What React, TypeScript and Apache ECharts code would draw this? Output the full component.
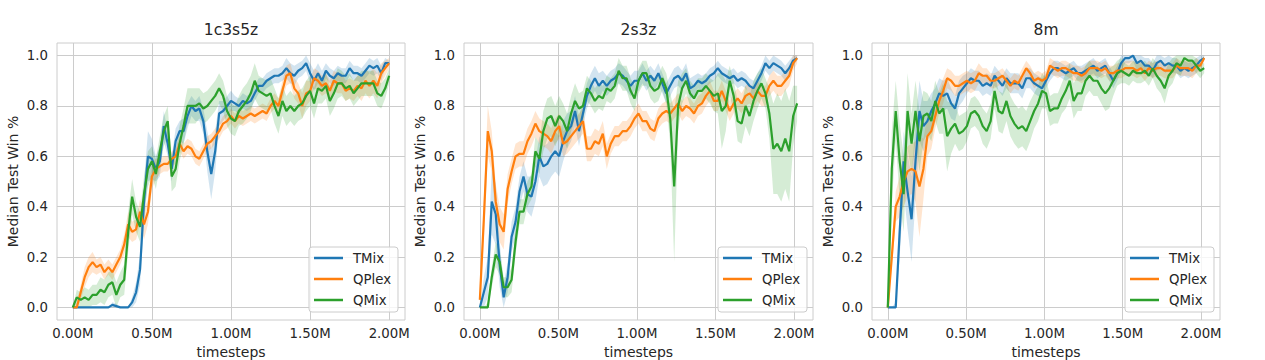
import React, { useEffect, useRef } from "react";
import * as echarts from "echarts";

// ---------- data (win rates, sampled every 1/80 of the run) ----------
const titles = ["1c3s5z", "2s3z", "8m"];
const methods = ["TMix", "QPlex", "QMix"];
const colors = ["#1f77b4", "#ff7f0e", "#2ca02c"];
const xTickValues = [0, 0.5, 1.0, 1.5, 2.0];
const yTickValues = [0, 0.2, 0.4, 0.6, 0.8, 1.0];
const lastStepM = [2.0, 2.02, 2.02];

// 1c3s5z
const p1TMix = [0,0,0,0,0,0,0,0,0,0,
  0.01,0.005,0,0,0,0.02,0.06,0.15,0.42,0.6,
  0.59,0.55,0.58,0.72,0.65,0.55,0.66,0.7,0.7,0.76,
  0.8,0.78,0.79,0.74,0.62,0.53,0.62,0.77,0.78,0.8,
  0.82,0.81,0.8,0.82,0.81,0.82,0.85,0.88,0.88,0.9,
  0.91,0.92,0.92,0.93,0.95,0.93,0.92,0.94,0.95,0.97,
  0.93,0.9,0.93,0.9,0.94,0.92,0.91,0.93,0.92,0.92,
  0.95,0.93,0.93,0.92,0.94,0.96,0.95,0.96,0.93,0.97,
  0.97];
const p1QPlex = [0,0,0.06,0.12,0.16,0.18,0.16,0.17,0.14,0.16,
  0.14,0.17,0.2,0.25,0.33,0.3,0.31,0.38,0.33,0.38,
  0.52,0.55,0.56,0.57,0.57,0.59,0.6,0.65,0.62,0.64,
  0.63,0.6,0.59,0.62,0.65,0.66,0.68,0.7,0.73,0.74,
  0.76,0.74,0.76,0.75,0.76,0.77,0.76,0.77,0.78,0.77,
  0.8,0.82,0.8,0.86,0.92,0.93,0.87,0.85,0.8,0.85,
  0.86,0.91,0.9,0.88,0.89,0.86,0.9,0.89,0.89,0.86,
  0.87,0.86,0.88,0.87,0.9,0.88,0.9,0.88,0.93,0.95,
  0.97];
const p1QMix = [0,0.04,0.03,0.04,0.03,0.05,0.05,0.07,0.06,0.09,
  0.1,0.05,0.09,0.11,0.3,0.44,0.36,0.32,0.45,0.55,
  0.58,0.53,0.62,0.7,0.74,0.52,0.55,0.65,0.72,0.8,
  0.8,0.8,0.81,0.79,0.8,0.82,0.84,0.87,0.84,0.78,
  0.75,0.74,0.78,0.8,0.82,0.85,0.9,0.86,0.85,0.84,
  0.85,0.8,0.76,0.82,0.78,0.8,0.78,0.8,0.81,0.84,
  0.86,0.81,0.87,0.86,0.88,0.82,0.85,0.89,0.89,0.87,
  0.88,0.85,0.87,0.89,0.89,0.89,0.89,0.85,0.84,0.87,
  0.92];
const p1TMixBand = [0,0,0,0,0,0,0,0,0,0,
  0.01,0.01,0,0,0,0.02,0.04,0.06,0.08,0.1,
  0.08,0.05,0.06,0.06,0.05,0.05,0.05,0.04,0.05,0.05,
  0.04,0.04,0.05,0.05,0.08,0.1,0.08,0.05,0.04,0.04,
  0.04,0.03,0.03,0.03,0.03,0.03,0.03,0.03,0.03,0.03,
  0.03,0.03,0.03,0.03,0.04,0.04,0.04,0.03,0.03,0.03,
  0.04,0.04,0.04,0.04,0.03,0.03,0.03,0.03,0.03,0.03,
  0.03,0.03,0.03,0.03,0.03,0.03,0.03,0.03,0.03,0.02,
  0.01];
const p1QPlexBand = [0,0.02,0.03,0.04,0.04,0.04,0.03,0.03,0.03,0.03,
  0.03,0.03,0.03,0.04,0.05,0.04,0.04,0.05,0.06,0.05,
  0.05,0.04,0.03,0.03,0.03,0.03,0.03,0.03,0.03,0.03,
  0.03,0.03,0.03,0.03,0.03,0.03,0.03,0.03,0.03,0.03,
  0.03,0.03,0.03,0.03,0.03,0.03,0.03,0.03,0.03,0.03,
  0.03,0.03,0.03,0.04,0.04,0.04,0.04,0.04,0.05,0.05,
  0.04,0.04,0.04,0.04,0.04,0.04,0.04,0.04,0.04,0.04,
  0.04,0.04,0.04,0.05,0.05,0.05,0.05,0.05,0.04,0.03,
  0.02];
const p1QMixBand = [0,0.03,0.03,0.04,0.04,0.04,0.04,0.05,0.05,0.05,
  0.05,0.05,0.05,0.06,0.08,0.07,0.06,0.06,0.07,0.07,
  0.06,0.06,0.06,0.06,0.06,0.06,0.07,0.07,0.07,0.07,
  0.07,0.07,0.06,0.06,0.06,0.06,0.06,0.06,0.06,0.06,
  0.06,0.06,0.06,0.07,0.07,0.07,0.07,0.06,0.06,0.06,
  0.06,0.07,0.07,0.06,0.06,0.06,0.06,0.06,0.06,0.06,
  0.06,0.06,0.06,0.05,0.05,0.06,0.06,0.06,0.05,0.05,
  0.05,0.05,0.05,0.05,0.05,0.05,0.05,0.05,0.05,0.04,
  0.03];

// 2s3z
const p2TMix = [0,0.06,0.12,0.42,0.37,0.17,0.04,0.12,0.28,0.34,
  0.46,0.52,0.45,0.44,0.5,0.6,0.56,0.57,0.6,0.62,
  0.6,0.66,0.7,0.72,0.78,0.7,0.77,0.84,0.88,0.91,
  0.88,0.9,0.88,0.9,0.91,0.93,0.92,0.9,0.88,0.9,
  0.9,0.93,0.9,0.92,0.9,0.93,0.89,0.85,0.88,0.91,
  0.92,0.9,0.93,0.87,0.88,0.9,0.89,0.9,0.92,0.93,
  0.95,0.93,0.92,0.91,0.92,0.9,0.91,0.9,0.88,0.87,
  0.9,0.93,0.97,0.95,0.97,0.96,0.95,0.93,0.95,0.98,
  0.99];
const p2QPlex = [0.03,0.35,0.7,0.62,0.42,0.33,0.3,0.47,0.54,0.6,
  0.61,0.61,0.66,0.69,0.73,0.7,0.69,0.68,0.66,0.7,
  0.72,0.65,0.66,0.68,0.7,0.72,0.74,0.63,0.63,0.66,
  0.65,0.69,0.6,0.65,0.68,0.68,0.7,0.7,0.72,0.75,
  0.77,0.74,0.74,0.71,0.7,0.75,0.77,0.78,0.77,0.79,
  0.81,0.78,0.8,0.79,0.77,0.8,0.81,0.84,0.86,0.82,
  0.82,0.86,0.82,0.78,0.81,0.83,0.81,0.84,0.85,0.83,
  0.86,0.84,0.84,0.88,0.9,0.88,0.88,0.9,0.92,0.97,
  0.99];
const p2QMix = [0,0,0,0.12,0.21,0.18,0.08,0.08,0.11,0.26,
  0.38,0.38,0.45,0.48,0.62,0.59,0.7,0.75,0.76,0.72,
  0.76,0.74,0.7,0.77,0.82,0.79,0.8,0.87,0.85,0.82,
  0.84,0.83,0.87,0.86,0.88,0.94,0.91,0.91,0.86,0.83,
  0.9,0.93,0.93,0.88,0.86,0.87,0.91,0.87,0.75,0.48,
  0.8,0.87,0.9,0.85,0.83,0.86,0.86,0.88,0.86,0.84,
  0.85,0.78,0.8,0.9,0.84,0.74,0.73,0.8,0.76,0.82,
  0.86,0.89,0.85,0.77,0.63,0.65,0.62,0.67,0.62,0.76,
  0.81];
const p2TMixBand = [0,0.06,0.08,0.13,0.12,0.09,0.05,0.06,0.06,0.06,
  0.06,0.06,0.07,0.08,0.08,0.08,0.08,0.08,0.08,0.08,
  0.08,0.08,0.07,0.06,0.06,0.06,0.05,0.05,0.05,0.05,
  0.05,0.04,0.04,0.04,0.04,0.04,0.04,0.04,0.04,0.04,
  0.04,0.04,0.04,0.04,0.04,0.04,0.04,0.04,0.04,0.04,
  0.04,0.04,0.04,0.04,0.04,0.03,0.03,0.03,0.03,0.03,
  0.03,0.03,0.03,0.03,0.03,0.03,0.03,0.03,0.03,0.03,
  0.03,0.03,0.03,0.03,0.03,0.03,0.03,0.03,0.03,0.02,
  0.01];
const p2QPlexBand = [0.02,0.08,0.1,0.08,0.07,0.07,0.07,0.06,0.05,0.05,
  0.05,0.05,0.05,0.05,0.05,0.05,0.05,0.05,0.05,0.05,
  0.05,0.05,0.05,0.05,0.05,0.05,0.05,0.05,0.05,0.05,
  0.05,0.05,0.05,0.04,0.04,0.04,0.04,0.04,0.04,0.04,
  0.04,0.04,0.04,0.04,0.04,0.04,0.04,0.04,0.04,0.04,
  0.04,0.04,0.04,0.04,0.04,0.04,0.04,0.04,0.04,0.04,
  0.04,0.04,0.04,0.04,0.04,0.04,0.04,0.04,0.04,0.04,
  0.04,0.04,0.04,0.04,0.04,0.04,0.04,0.04,0.04,0.03,
  0.02];
const p2QMixBand = [0,0,0.02,0.04,0.05,0.05,0.04,0.04,0.05,0.05,
  0.05,0.05,0.05,0.05,0.06,0.06,0.08,0.08,0.08,0.08,
  0.08,0.07,0.07,0.07,0.07,0.06,0.06,0.05,0.05,0.05,
  0.05,0.05,0.05,0.05,0.05,0.05,0.05,0.05,0.05,0.05,
  0.05,0.05,0.05,0.05,0.05,0.05,0.05,0.06,0.1,0.3,
  0.1,0.06,0.05,0.05,0.05,0.05,0.05,0.05,0.05,0.06,
  0.08,0.15,0.1,0.06,0.06,0.08,0.08,0.08,0.08,0.08,
  0.07,0.06,0.06,0.1,0.18,0.2,0.2,0.2,0.2,0.12,
  0.07];

// 8m
const p3TMix = [0,0,0,0.3,0.58,0.46,0.35,0.58,0.78,0.72,
  0.74,0.78,0.81,0.85,0.84,0.85,0.81,0.79,0.85,0.87,
  0.89,0.91,0.9,0.9,0.88,0.89,0.88,0.92,0.9,0.88,
  0.91,0.89,0.89,0.89,0.87,0.91,0.91,0.89,0.88,0.87,
  0.9,0.93,0.95,0.95,0.94,0.93,0.94,0.95,0.93,0.93,
  0.94,0.95,0.96,0.94,0.95,0.96,0.93,0.9,0.93,0.97,
  0.99,0.99,1.0,0.97,0.98,0.96,0.96,0.94,0.97,0.98,
  0.96,0.97,0.96,0.96,0.94,0.95,0.94,0.95,0.96,0.98,
  0.99];
const p3QPlex = [0,0.2,0.4,0.44,0.5,0.54,0.55,0.54,0.48,0.55,
  0.68,0.7,0.76,0.82,0.86,0.91,0.9,0.88,0.88,0.89,
  0.9,0.89,0.9,0.93,0.92,0.92,0.9,0.9,0.91,0.92,
  0.9,0.88,0.9,0.89,0.92,0.95,0.93,0.9,0.91,0.9,
  0.91,0.96,0.95,0.94,0.95,0.95,0.94,0.93,0.93,0.92,
  0.93,0.95,0.95,0.95,0.94,0.95,0.93,0.93,0.94,0.94,
  0.95,0.95,0.95,0.94,0.95,0.93,0.95,0.94,0.95,0.95,
  0.94,0.94,0.94,0.96,0.95,0.95,0.95,0.94,0.96,0.96,
  0.99];
const p3QMix = [0,0.55,0.78,0.58,0.45,0.78,0.65,0.78,0.66,0.76,
  0.77,0.74,0.82,0.77,0.79,0.68,0.71,0.73,0.69,0.7,
  0.72,0.77,0.78,0.76,0.72,0.7,0.74,0.86,0.78,0.77,
  0.82,0.76,0.73,0.71,0.72,0.7,0.74,0.78,0.81,0.86,
  0.85,0.78,0.79,0.79,0.83,0.86,0.9,0.82,0.85,0.85,
  0.9,0.92,0.9,0.9,0.87,0.85,0.87,0.9,0.93,0.94,
  0.93,0.92,0.94,0.93,0.93,0.94,0.92,0.95,0.92,0.9,
  0.87,0.92,0.94,0.97,0.96,0.99,0.98,0.98,0.96,0.94,
  0.95];
const p3TMixBand = [0,0,0.02,0.1,0.12,0.15,0.17,0.15,0.12,0.1,
  0.08,0.07,0.06,0.06,0.06,0.06,0.06,0.05,0.05,0.05,
  0.04,0.04,0.04,0.04,0.04,0.04,0.04,0.04,0.04,0.04,
  0.04,0.04,0.04,0.04,0.04,0.04,0.04,0.04,0.04,0.04,
  0.03,0.03,0.03,0.03,0.03,0.03,0.03,0.03,0.03,0.03,
  0.03,0.03,0.03,0.03,0.03,0.03,0.03,0.03,0.03,0.03,
  0.02,0.02,0.02,0.03,0.03,0.03,0.03,0.03,0.03,0.03,
  0.03,0.03,0.03,0.03,0.03,0.03,0.03,0.03,0.03,0.02,
  0.01];
const p3QPlexBand = [0,0.05,0.06,0.08,0.1,0.1,0.1,0.12,0.2,0.12,
  0.08,0.07,0.05,0.05,0.05,0.04,0.04,0.04,0.04,0.04,
  0.04,0.04,0.04,0.04,0.03,0.03,0.03,0.03,0.03,0.03,
  0.03,0.03,0.03,0.03,0.03,0.03,0.03,0.03,0.03,0.03,
  0.03,0.03,0.03,0.03,0.03,0.03,0.03,0.03,0.03,0.03,
  0.03,0.03,0.03,0.03,0.03,0.03,0.03,0.03,0.03,0.03,
  0.03,0.03,0.03,0.03,0.03,0.03,0.03,0.03,0.03,0.03,
  0.03,0.03,0.03,0.03,0.03,0.03,0.03,0.03,0.03,0.02,
  0.01];
const p3QMixBand = [0,0.15,0.12,0.15,0.15,0.15,0.12,0.12,0.12,0.1,
  0.08,0.08,0.08,0.08,0.1,0.14,0.1,0.08,0.07,0.07,
  0.06,0.06,0.06,0.06,0.07,0.07,0.07,0.07,0.08,0.08,
  0.08,0.08,0.08,0.08,0.08,0.08,0.08,0.07,0.07,0.07,
  0.06,0.06,0.06,0.06,0.06,0.07,0.07,0.07,0.07,0.07,
  0.06,0.06,0.06,0.06,0.06,0.07,0.08,0.06,0.05,0.05,
  0.04,0.04,0.04,0.04,0.04,0.04,0.04,0.04,0.05,0.05,
  0.06,0.05,0.05,0.04,0.04,0.04,0.04,0.03,0.03,0.03,
  0.02];

// ---------- layout / style ----------
const FONT = "DejaVu Sans";
const TEXT = "#262626";
const GRID_COLOR = "#cccccc";
const gridLeft = [57, 464, 872];
const gridWidth = [348, 349, 348];
const gridTop = 43;
const gridHeight = 277;
const legendLeft = [309, 718, 1125];

function buildOption() {
  const panels = [
    { medians: [p1TMix, p1QPlex, p1QMix], spreads: [p1TMixBand, p1QPlexBand, p1QMixBand] },
    { medians: [p2TMix, p2QPlex, p2QMix], spreads: [p2TMixBand, p2QPlexBand, p2QMixBand] },
    { medians: [p3TMix, p3QPlex, p3QMix], spreads: [p3TMixBand, p3QPlexBand, p3QMixBand] },
  ];
  const grid: any[] = [];
  const xAxis: any[] = [];
  const yAxis: any[] = [];
  const series: any[] = [];
  const legend: any[] = [];
  const graphic: any[] = [];

  panels.forEach((p, k) => {
    const end = lastStepM[k];
    const n = p.medians[0].length;
    const xs = p.medians[0].map((_, i) => (i * end) / (n - 1));
    const pad = end * 0.05;
    grid.push({
      left: gridLeft[k], top: gridTop, width: gridWidth[k], height: gridHeight,
      show: true, borderColor: GRID_COLOR, borderWidth: 1, backgroundColor: "transparent",
    });
    xAxis.push({
      type: "value", gridIndex: k, min: -pad, max: end + pad,
      axisLine: { show: false }, axisTick: { show: false }, splitLine: { show: false },
      axisLabel: {
        customValues: xTickValues, formatter: (v: number) => v.toFixed(2) + "M",
        color: TEXT, fontSize: 13.3, fontFamily: FONT, margin: 7,
      },
    });
    yAxis.push({
      type: "value", gridIndex: k, min: -0.05, max: 1.05,
      axisLine: { show: false }, axisTick: { show: false }, splitLine: { show: false },
      axisLabel: {
        customValues: yTickValues, formatter: (v: number) => v.toFixed(1),
        color: TEXT, fontSize: 13.3, fontFamily: FONT, margin: 9,
      },
    });
    // grid lines
    series.push({
      type: "line", xAxisIndex: k, yAxisIndex: k, data: [], silent: true, z: 1,
      markLine: {
        z: 1, silent: true, symbol: ["none", "none"], label: { show: false },
        lineStyle: { color: GRID_COLOR, width: 1, type: "solid" },
        emphasis: { disabled: true },
        data: [
          ...xTickValues.map((v) => ({ xAxis: v })),
          ...yTickValues.map((v) => ({ yAxis: v })),
        ],
      },
    });
    // bands
    p.medians.forEach((m, j) => {
      const s = p.spreads[j];
      const hi = m.map((v, i) => Math.min(1, v + s[i]));
      const lo = m.map((v, i) => Math.max(0, v - s[i]));
      series.push({
        type: "custom", name: methods[j] + " band", xAxisIndex: k, yAxisIndex: k,
        z: 2, silent: true, data: [[xs[0], m[0]]],
        renderItem: (_params: any, api: any) => {
          const pts: number[][] = [];
          for (let i = 0; i < n; i++) pts.push(api.coord([xs[i], hi[i]]));
          for (let i = n - 1; i >= 0; i--) pts.push(api.coord([xs[i], lo[i]]));
          return {
            type: "polygon", shape: { points: pts },
            style: { fill: colors[j], opacity: 0.2, stroke: "none" },
          };
        },
      });
    });
    // median lines
    p.medians.forEach((m, j) => {
      series.push({
        type: "line", name: methods[j], xAxisIndex: k, yAxisIndex: k, z: 3,
        data: xs.map((x, i) => [x, m[i]]),
        showSymbol: false, symbol: "none", color: colors[j],
        itemStyle: { color: colors[j] },
        lineStyle: { color: colors[j], width: 2.2 },
      });
    });
    legend.push({
      data: methods, orient: "vertical", left: legendLeft[k], top: 247,
      icon: "rect", itemWidth: 29, itemHeight: 2.5, itemGap: 5,
      padding: [3, 7, 4, 5], backgroundColor: "rgba(255,255,255,0.8)",
      borderColor: GRID_COLOR, borderWidth: 1, borderRadius: 3,
      selectedMode: false,
      textStyle: { color: TEXT, fontSize: 13.3, fontFamily: FONT, lineHeight: 16, padding: [0, 0, 0, 5] },
    });
    const cx = gridLeft[k] + gridWidth[k] / 2;
    graphic.push({
      type: "text", x: cx, y: 30,
      style: { text: titles[k], fill: TEXT, fontSize: 15.5, fontFamily: FONT, textAlign: "center", textVerticalAlign: "middle", align: "center", verticalAlign: "middle" },
    });
    graphic.push({
      type: "text", x: cx, y: 351.5,
      style: { text: "timesteps", fill: TEXT, fontSize: 14, fontFamily: FONT, textAlign: "center", textVerticalAlign: "middle", align: "center", verticalAlign: "middle" },
    });
    graphic.push({
      type: "text", x: gridLeft[k] - 44.2, y: 181.5, rotation: Math.PI / 2,
      style: { text: "Median Test Win %", fill: TEXT, fontSize: 14, fontFamily: FONT, textAlign: "center", textVerticalAlign: "middle", align: "center", verticalAlign: "middle" },
    });
  });

  return {
    animation: false,
    backgroundColor: "#ffffff",
    textStyle: { fontFamily: FONT },
    grid, xAxis, yAxis, series, legend, graphic,
  };
}

export default function App() {
  const ref = useRef<HTMLDivElement>(null);
  useEffect(() => {
    if (!ref.current) return;
    const chart = echarts.init(ref.current, undefined, { renderer: "svg" });
    chart.setOption(buildOption() as any);
    return () => chart.dispose();
  }, []);
  return (
    <div
      ref={ref}
      style={{ position: "absolute", left: 0, top: 0, width: 1265, height: 360 }}
    />
  );
}
